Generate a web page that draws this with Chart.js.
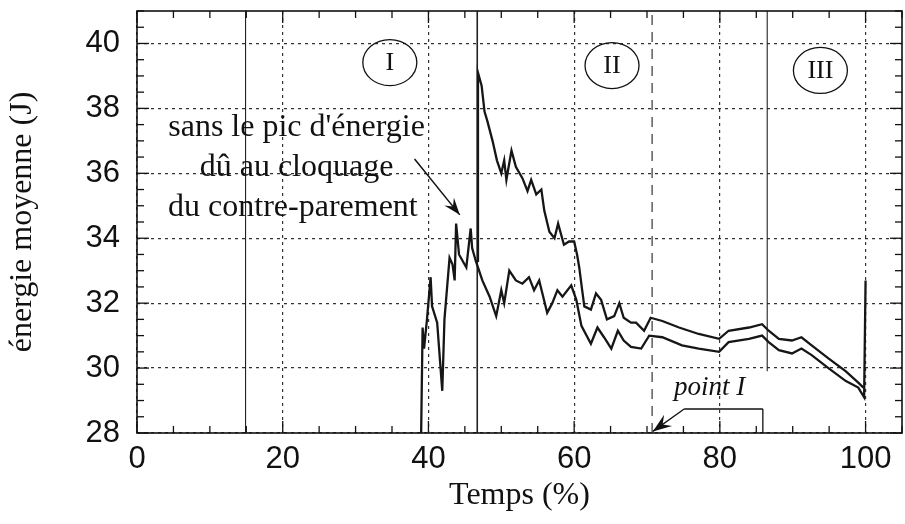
<!DOCTYPE html>
<html lang="fr">
<head>
<meta charset="utf-8">
<script src="https://cdn.jsdelivr.net/npm/chart.js@4.4.1/dist/chart.umd.min.js"></script>
<style>
  html, body { margin: 0; padding: 0; background: #fff; }
  #graphe { display: block; }
</style>
</head>
<body>
<canvas id="graphe" width="905" height="524"></canvas>
<script>
// Courbe "sans le pic d'énergie" (commence à ~39 %)
const basX = [39.0, 39.2, 39.4, 39.8, 40.3, 40.5, 41.2, 41.9, 42.2, 42.9, 43.3, 43.6, 43.8, 44.2, 44.7, 45.2, 45.8, 46.0, 46.5,
              47.4, 48.4, 49.3, 50.0, 50.4, 51.1, 52.0, 52.9, 53.8, 54.5, 55.2, 56.3, 57.0, 57.7, 58.4, 59.6, 60.3, 61.0,
              62.3, 63.2, 64.1, 65.1, 66.0, 66.8, 67.8, 69.2, 70.3, 72.1, 74.8, 77.1, 79.9, 81.2, 84.0, 85.8, 86.7,
              88.1, 89.9, 91.2, 92.6, 94.9, 97.3, 99.0, 99.8, 100.0];
const basY = [28.0, 31.25, 30.6, 31.5, 32.8, 31.9, 31.4, 29.3, 31.5, 33.4, 33.2, 32.7, 34.45, 33.5, 33.3, 33.1, 34.3, 33.7, 33.3,
              32.7, 32.2, 31.6, 32.4, 32.0, 33.0, 32.7, 32.6, 32.8, 32.4, 32.7, 31.7, 32.0, 32.4, 32.2, 32.55, 32.1, 31.3,
              30.75, 31.25, 30.95, 30.6, 31.15, 30.85, 30.65, 30.6, 31.0, 30.95, 30.7, 30.6, 30.5, 30.8, 30.9, 31.0, 30.8,
              30.55, 30.45, 30.6, 30.4, 30.0, 29.6, 29.4, 29.1, 32.7];

// Courbe avec le pic (à partir de ~46.7 %)
const hautX = [46.7, 46.8, 47.3, 47.7, 48.1, 48.8, 49.4, 50.0, 50.4, 50.7, 51.4, 52.0, 52.9, 53.6, 54.1, 54.8, 55.5, 55.9,
               56.6, 57.3, 57.8, 58.6, 59.3, 60.0, 60.4, 60.7, 61.1, 61.4, 62.3, 63.0, 63.7, 64.5, 65.5, 66.2, 66.8, 67.8,
               68.5, 69.6, 70.5, 72.1, 74.4, 77.1, 79.9, 81.2, 84.0, 85.8, 86.7, 88.1, 89.9, 91.2, 92.6, 94.9, 97.3, 99.0, 99.7];
const hautY = [33.3, 39.1, 38.7, 37.9, 37.6, 37.0, 36.4, 36.0, 36.4, 35.8, 36.7, 36.2, 35.85, 35.45, 35.8, 35.35, 35.5, 34.85,
               34.2, 34.0, 34.45, 33.8, 33.9, 33.9, 33.5, 33.1, 32.4, 31.9, 31.8, 32.3, 32.1, 31.5, 31.6, 32.0, 31.55, 31.4,
               31.4, 31.15, 31.55, 31.45, 31.25, 31.05, 30.9, 31.15, 31.25, 31.35, 31.15, 30.9, 30.85, 30.95, 30.7, 30.3, 29.9, 29.55, 29.4];

// Limites des zones I / II / III
const limitesX = [14.9, 46.7, 70.7, 86.5];
const limitesBas = [28, 28, 28, 29.9];
const limitesStyle = ['plein', 'plein', 'tirets', 'plein'];

const ticksX = [0, 20, 40, 60, 80, 100];
const ticksY = [28, 30, 32, 34, 36, 38, 40];

const serif = '"Liberation Serif", "DejaVu Serif", serif';
const sans = '"Liberation Sans", Arial, sans-serif';

function points(xs, ys) {
    return xs.map((v, i) => ({ x: v, y: ys[i] }));
}

const datasets = [
    { data: points(basX, basY), borderColor: '#161616', borderWidth: 2.3 },
    { data: points(hautX, hautY), borderColor: '#161616', borderWidth: 2.3 }
];
limitesX.forEach((lx, i) => {
    datasets.push({
        data: [{ x: lx, y: limitesBas[i] }, { x: lx, y: 41 }],
        borderColor: '#222',
        borderWidth: i === 1 ? 1.6 : 1.1,
        borderDash: limitesStyle[i] === 'tirets' ? [10, 7] : []
    });
});

// Cadre, graduations intérieures et annotations
const decor = {
    id: 'decor',
    afterDatasetsDraw(chart) {
        const { ctx, chartArea: a, scales: { x, y } } = chart;
        const px = v => x.getPixelForValue(v);
        const py = v => y.getPixelForValue(v);
        const trait = (x1, y1, x2, y2) => { ctx.beginPath(); ctx.moveTo(x1, y1); ctx.lineTo(x2, y2); ctx.stroke(); };
        const fleche = (x1, y1, x2, y2, t) => {
            trait(x1, y1, x2, y2);
            const ang = Math.atan2(y2 - y1, x2 - x1);
            ctx.beginPath();
            ctx.moveTo(x2, y2);
            ctx.lineTo(x2 - t * Math.cos(ang - 0.35), y2 - t * Math.sin(ang - 0.35));
            ctx.lineTo(x2 - t * 0.6 * Math.cos(ang), y2 - t * 0.6 * Math.sin(ang));
            ctx.lineTo(x2 - t * Math.cos(ang + 0.35), y2 - t * Math.sin(ang + 0.35));
            ctx.closePath();
            ctx.fill();
        };

        ctx.save();
        ctx.strokeStyle = '#111';
        ctx.fillStyle = '#111';
        ctx.lineWidth = 1.6;
        ctx.strokeRect(a.left, a.top, a.right - a.left, a.bottom - a.top);

        ctx.lineWidth = 1.3;
        for (let v = 0; v <= 105; v += 5) {
            const len = v % 20 === 0 ? 12 : 7;
            trait(px(v), a.bottom, px(v), a.bottom - len);
            trait(px(v), a.top, px(v), a.top + len);
        }
        for (let v = 28; v <= 41; v += 0.5) {
            const len = v % 2 === 0 ? 12 : 7;
            trait(a.left, py(v), a.left + len, py(v));
            trait(a.right, py(v), a.right - len, py(v));
        }

        // zones
        ctx.lineWidth = 1.3;
        ctx.font = '26px ' + serif;
        ctx.textAlign = 'center';
        ctx.textBaseline = 'middle';
        [['I', 34.7, 39.41], ['II', 65.2, 39.32], ['III', 93.8, 39.17]].forEach(([t, cx, cy]) => {
            ctx.beginPath();
            ctx.ellipse(px(cx), py(cy), 27, 23, 0, 0, Math.PI * 2);
            ctx.stroke();
            ctx.fillText(t, px(cx), py(cy) + 1);
        });

        // texte sur le pic
        ctx.font = '32px ' + serif;
        ctx.textBaseline = 'alphabetic';
        ctx.fillText("sans le pic d'énergie", px(21.9), py(37.14));
        ctx.fillText('dû au cloquage', px(21.9), py(35.91));
        ctx.fillText('du contre-parement', px(21.4), py(34.69));
        ctx.lineWidth = 1.5;
        fleche(px(38.1), py(36.44), px(44.3), py(34.72), 18);

        // point I
        ctx.font = 'italic 27px ' + serif;
        ctx.textAlign = 'left';
        ctx.fillText('point I', px(73.7), py(29.17));
        ctx.lineWidth = 1.3;
        trait(px(75.1), py(28.74), px(85.9), py(28.74));
        trait(px(85.9), py(28.74), px(85.9), py(28));
        fleche(px(75.1), py(28.74), px(70.8), py(28.05), 20);
        ctx.restore();
    }
};

new Chart(document.getElementById('graphe'), {
    type: 'line',
    data: { datasets },
    options: {
        responsive: false,
        animation: false,
        events: [],
        parsing: false,
        elements: { point: { radius: 0 }, line: { tension: 0 } },
        layout: { padding: { left: 0, top: 11, right: 3, bottom: 0 } },
        plugins: { legend: { display: false }, tooltip: { enabled: false } },
        scales: {
            x: {
                type: 'linear',
                min: 0, max: 105,
                afterFit: s => { s.height = 91; s.paddingLeft = 0; s.paddingRight = 0; },
                afterBuildTicks: s => { s.ticks = ticksX.map(v => ({ value: v })); },
                ticks: { font: { family: sans, size: 31 }, color: '#111', padding: 8, maxRotation: 0 },
                grid: { color: '#333', lineWidth: 1.2, drawTicks: false },
                border: { display: false, dash: [3, 4] },
                title: { display: true, text: 'Temps (%)', font: { family: serif, size: 32 }, color: '#111', padding: { bottom: 9 } }
            },
            y: {
                type: 'linear',
                min: 28, max: 41,
                afterFit: s => { s.width = 137; s.paddingTop = 0; s.paddingBottom = 0; },
                afterBuildTicks: s => { s.ticks = ticksY.map(v => ({ value: v })); },
                ticks: { font: { family: sans, size: 31 }, color: '#111', padding: 17 },
                grid: { color: '#333', lineWidth: 1.2, drawTicks: false },
                border: { display: false, dash: [3, 4] },
                title: { display: true, text: 'énergie moyenne (J)', font: { family: serif, size: 32 }, color: '#111', padding: { top: 3 } }
            }
        }
    },
    plugins: [decor]
});
</script>
</body>
</html>
